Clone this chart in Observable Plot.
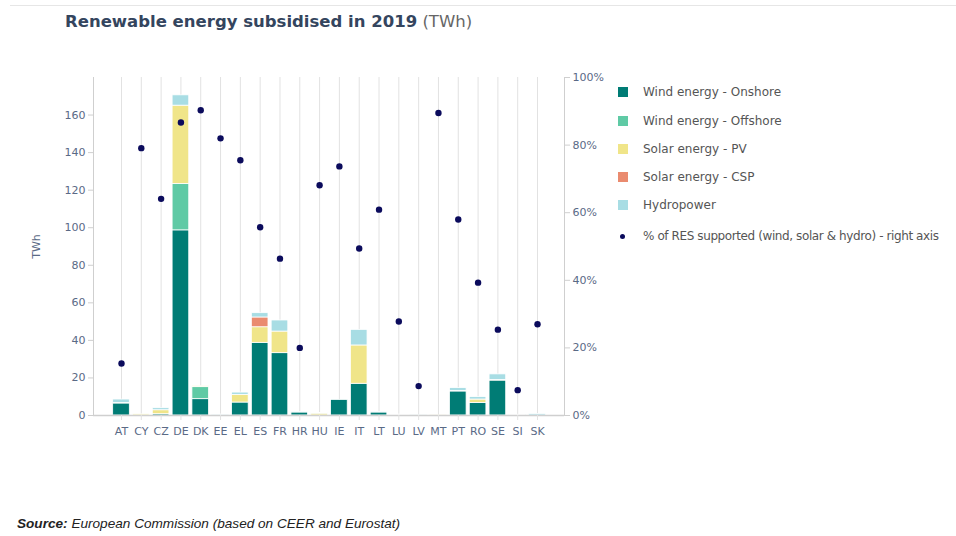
<!DOCTYPE html>
<html><head><meta charset="utf-8">
<script src="https://cdn.jsdelivr.net/npm/d3@7"></script>
<script src="https://cdn.jsdelivr.net/npm/@observablehq/plot@0.6"></script>
<style>
html,body{margin:0;padding:0;background:#fff;}
#wrap{position:relative;width:956px;height:536px;overflow:hidden;font-family:"DejaVu Sans",Verdana,sans-serif;}
#topline{position:absolute;left:10px;right:0;top:5px;height:1px;background:#e6e6e6;}
#title{position:absolute;left:65px;top:12px;font-size:16.5px;color:#34455e;white-space:nowrap;}
#title b{font-weight:bold;}
#title span{font-weight:normal;color:#666;}
#chart{position:absolute;left:0;top:0;}
#legend{position:absolute;left:618px;top:0;width:338px;height:260px;}
.lg{position:absolute;left:0;height:14px;white-space:nowrap;font-size:12px;color:#555;}
.sw{position:absolute;left:0;top:2px;width:10px;height:10px;}
.dt{position:absolute;left:2px;top:5px;width:5px;height:5px;border-radius:50%;}
.lt{position:absolute;left:25px;top:0;line-height:14px;}
.tight{letter-spacing:-0.4px;}
#source{position:absolute;left:17px;top:516px;font-family:"Liberation Sans",Arial,sans-serif;font-style:italic;font-size:13.6px;color:#222;white-space:nowrap;}
</style>
</head><body>
<div id="wrap">
  <div id="topline"></div>
  <div id="title"><b>Renewable energy subsidised in 2019</b> <span>(TWh)</span></div>
  <div id="chart"></div>
  <div id="legend"></div>
  <div id="source"><b>Source:</b> European Commission (based on CEER and Eurostat)</div>
</div>
<script>
const countries   = ["AT","CY","CZ","DE","DK","EE","EL","ES","FR","HR","HU","IE","IT","LT","LU","LV","MT","PT","RO","SE","SI","SK"];
const windOnshore = [6.4, 0,   0.7, 98.6, 8.7, 0,   6.9, 38.7, 33.2, 1.6, 0,   8.3, 16.9, 1.6, 0,   0,   0,   12.8, 6.7, 18.6, 0,   0];
const windOffshore= [0,   0,   0,   24.7, 6.4, 0,   0,   0,    0,    0,   0,   0,   0,    0,   0,   0,   0,   0,    0,   0,    0,   0];
const solarPV     = [0.3, 0.6, 2.1, 41.7, 0.5, 0,   4.1, 8.3,  11.5, 0,   1.0, 0,   20.4, 0,   0.2, 0,   0.1, 0.3,  1.8, 0.3,  0,   0];
const solarCSP    = [0,   0,   0,   0,    0,   0,   0,   5.2,  0,    0,   0,   0,   0,    0,   0,   0,   0,   0,    0,   0,    0,   0];
const hydropower  = [1.8, 0,   1.1, 5.5,  0,   0.5, 1.2, 2.3,  5.9,  0.2, 0.3, 0,   8.3,  0.2, 0.3, 0.2, 0,   1.5,  1.3, 3.0,  0.4, 0.8];
const resShare    = [15.4, 79.1, 64.1, 86.7, 90.3, 82.0, 75.5, 55.7, 46.4, 20.0, 68.1, 73.7, 49.4, 60.9, 27.8, 8.7, 89.5, 58.0, 39.3, 25.4, 7.5, 27.0];
const percentTicks = [0, 20, 40, 60, 80, 100];
const twhTicks = [0, 20, 40, 60, 80, 100, 120, 140, 160];

const types  = ["Wind energy - Onshore","Wind energy - Offshore","Solar energy - PV","Solar energy - CSP","Hydropower"];
const colors = ["#007c75","#5fcaa5","#f0e589","#ea8b6f","#a8dde4"];
const dotLabel = "% of RES supported (wind, solar & hydro) - right axis";
const dotColor = "#0b0b5c";

const series = [windOnshore, windOffshore, solarPV, solarCSP, hydropower];
const rows = countries.flatMap((c, i) => types.map((t, k) => ({country: c, type: t, value: series[k][i]})));
const pts = countries.map((c, i) => ({country: c, pct: resShare[i]}));
const yMax = 180;
const k = yMax / 100;

const axisColor = "#cfcfcf";
const labelColor = "#5a6a86";

const chart = Plot.plot({
  width: 956, height: 536,
  marginTop: 77, marginBottom: 121, marginLeft: 93, marginRight: 392,
  x: {domain: countries, padding: 0.16, round: false, insetLeft: 16.5, insetRight: 15.5, label: null},
  y: {domain: [0, yMax], label: null},
  color: {domain: types, range: colors},
  style: {fontFamily: "'DejaVu Sans', Verdana, sans-serif", fontSize: "11px", background: "transparent"},
  marks: [
    Plot.gridX({stroke: "#e2e2e2", strokeOpacity: 1}),
    Plot.barY(rows, {x: "country", y: "value", fill: "type", order: types, stroke: "white", strokeWidth: 0.8}),
    Plot.ruleY([0], {stroke: axisColor, strokeWidth: 1.5}),
    Plot.frame({anchor: "left", stroke: axisColor}),
    Plot.frame({anchor: "right", stroke: axisColor}),
    Plot.axisX({tickSize: 5, tickPadding: 7, stroke: "#e2e2e2", fill: labelColor}),
    Plot.axisY({ticks: twhTicks, tickSize: 5, tickPadding: 3, stroke: axisColor, fill: labelColor,
      label: "TWh", labelAnchor: "center", labelOffset: 61, labelArrow: "none"}),
    Plot.axisY({anchor: "right", ticks: percentTicks.map(p => p * k), tickFormat: v => Math.round(v / k) + "%",
      tickSize: 5, tickPadding: 3, stroke: axisColor, fill: labelColor, label: null}),
    Plot.dot(pts, {x: "country", y: d => d.pct * k, r: 3.2, fill: dotColor, stroke: "none"})
  ]
});
document.getElementById("chart").appendChild(chart);

const legend = document.getElementById("legend");
const rowsY = [85, 113.5, 141.5, 170, 198, 228.5];
types.forEach((t, i) => {
  const d = document.createElement("div");
  d.className = "lg"; d.style.top = rowsY[i] + "px";
  d.innerHTML = `<div class="sw" style="background:${colors[i]}"></div><div class="lt">${t}</div>`;
  legend.appendChild(d);
});
const dd = document.createElement("div");
dd.className = "lg"; dd.style.top = rowsY[5] + "px";
dd.innerHTML = `<div class="dt" style="background:${dotColor}"></div><div class="lt tight">${dotLabel}</div>`;
legend.appendChild(dd);
</script>
</body></html>
